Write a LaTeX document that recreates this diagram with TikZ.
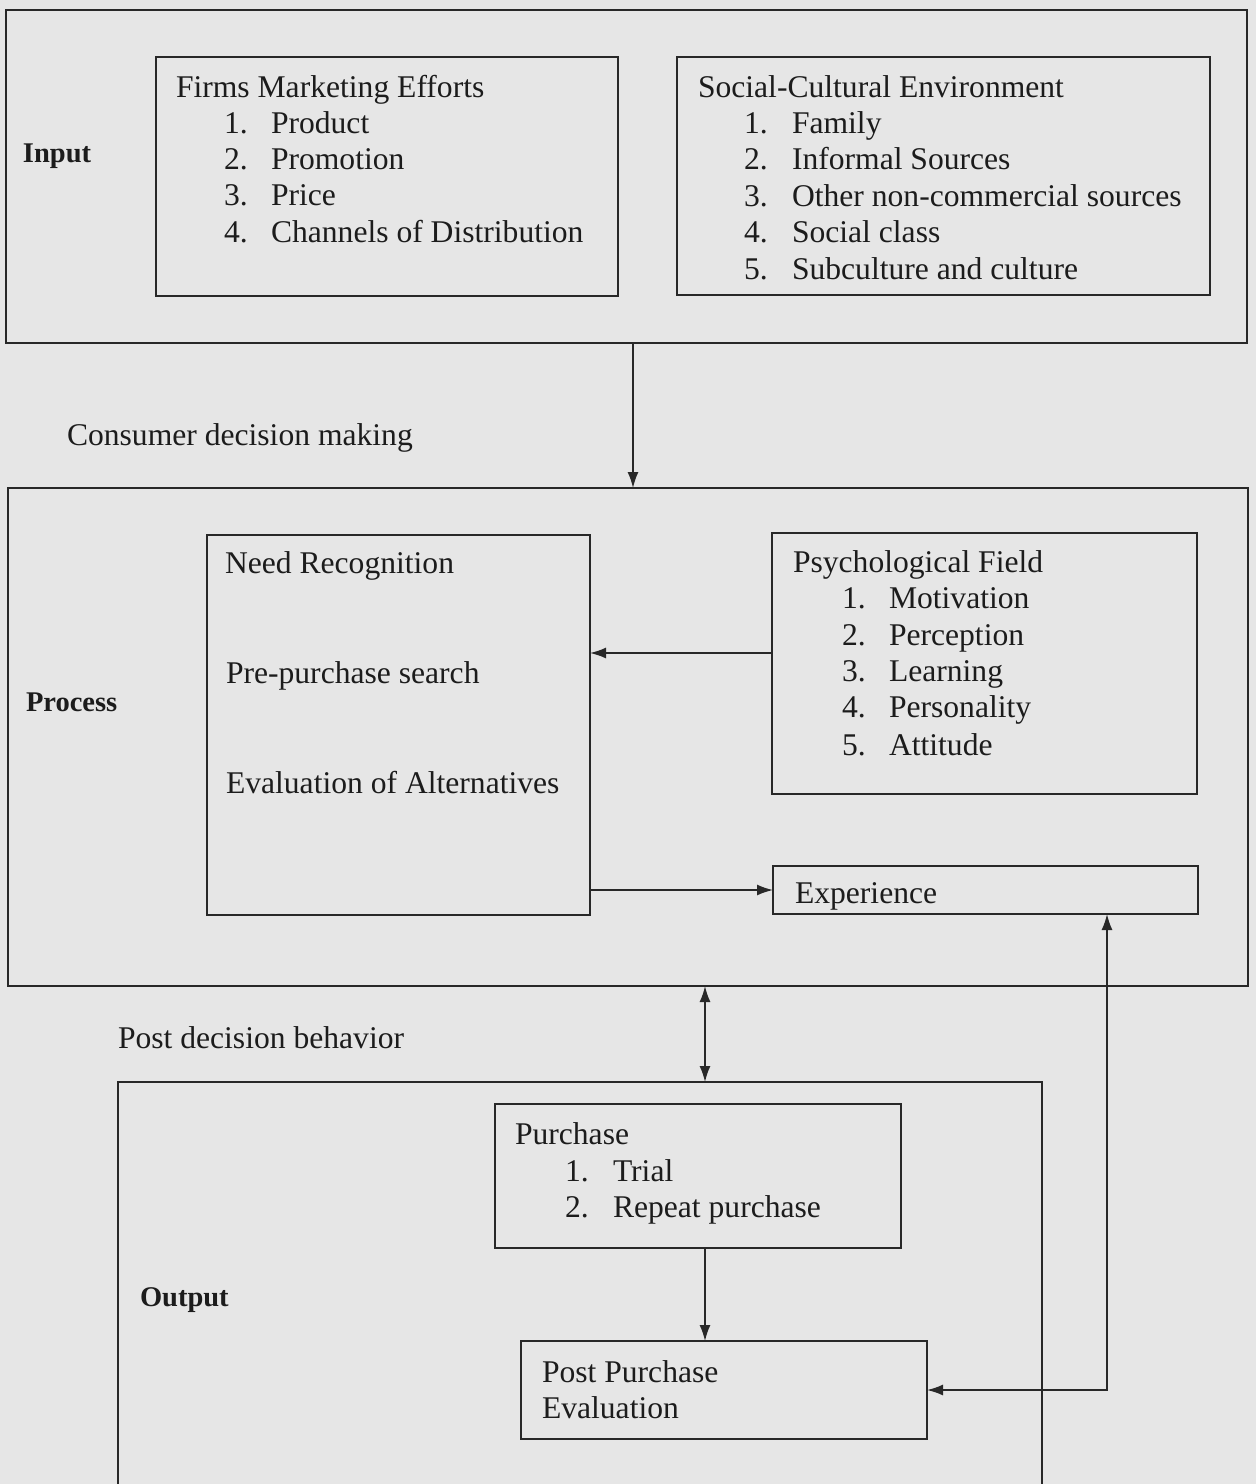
\documentclass[tikz,border=0pt]{standalone}
\usepackage{fontspec}
\setmainfont{Liberation Serif}
\usetikzlibrary{arrows.meta}
\definecolor{paper}{RGB}{230,230,230}
\definecolor{ink}{RGB}{28,28,28}
\definecolor{rule}{RGB}{40,40,40}
\tikzset{
  boxs/.style={draw=rule, line width=1.7pt, inner sep=0pt, outer sep=0pt},
  txt/.style={anchor=base west, inner sep=0pt, outer sep=0pt, text=ink, font=\fontsize{31.6}{36}\selectfont},
  lbl/.style={anchor=base west, inner sep=0pt, outer sep=0pt, text=ink, font=\fontsize{28.5}{34}\selectfont\bfseries},
  conn/.style={draw=rule, line width=1.6pt, -{Latex[length=16pt,width=11pt]}},
  conn2/.style={draw=rule, line width=1.6pt, {Latex[length=16pt,width=11pt]}-{Latex[length=16pt,width=11pt]}}
}
\begin{document}
\begin{tikzpicture}[x=1pt,y=-1pt]
\fill[paper] (0,0) rectangle (1256,1484);
\useasboundingbox (0,0) rectangle (1256,1484);

% ---- Input ----
\node[boxs, minimum width=1241pt, minimum height=333pt] (inbox) at (626.5,176.5) {};
\node[boxs, minimum width=462pt, minimum height=239pt] (firms) at (387,176.5) {};
\node[boxs, minimum width=533pt, minimum height=238pt] (social) at (943.5,176) {};
\node[lbl] (inlbl) at (23,162) {Input};

\node[txt] (f0) at (176,97) {Firms Marketing Efforts};
\node[txt] (f1n) at (224,133) {1.}; \node[txt] (f1) at (271,133) {Product};
\node[txt] (f2n) at (224,169) {2.}; \node[txt] (f2) at (271,169) {Promotion};
\node[txt] (f3n) at (224,205) {3.}; \node[txt] (f3) at (271,205) {Price};
\node[txt] (f4n) at (224,242) {4.}; \node[txt] (f4) at (271,242) {Channels of Distribution};

\node[txt] (s0) at (698,97) {Social-Cultural Environment};
\node[txt] (s1n) at (744,133) {1.}; \node[txt] (s1) at (792,133) {Family};
\node[txt] (s2n) at (744,169) {2.}; \node[txt] (s2) at (792,169) {Informal Sources};
\node[txt] (s3n) at (744,206) {3.}; \node[txt] (s3) at (792,206) {Other non-commercial sources};
\node[txt] (s4n) at (744,242) {4.}; \node[txt] (s4) at (792,242) {Social class};
\node[txt] (s5n) at (744,279) {5.}; \node[txt] (s5) at (792,279) {Subculture and culture};

\node[txt] (cdm) at (67,445) {Consumer decision making};

% ---- Process ----
\node[boxs, minimum width=1240pt, minimum height=498pt] (process) at (628,737) {};
\node[boxs, minimum width=383pt, minimum height=380pt] (need) at (398.5,725) {};
\node[boxs, minimum width=425pt, minimum height=261pt] (psych) at (984.5,663.5) {};
\node[boxs, minimum width=425pt, minimum height=48pt] (exper) at (985.5,890) {};
\node[lbl] (prlbl) at (26,711) {Process};

\node[txt] (n1) at (225,573) {Need Recognition};
\node[txt] (n2) at (226,683) {Pre-purchase search};
\node[txt] (n3) at (226,793) {Evaluation of Alternatives};

\node[txt] (p0) at (793,572) {Psychological Field};
\node[txt] (p1n) at (842,608) {1.}; \node[txt] (p1) at (889,608) {Motivation};
\node[txt] (p2n) at (842,645) {2.}; \node[txt] (p2) at (889,645) {Perception};
\node[txt] (p3n) at (842,681) {3.}; \node[txt] (p3) at (889,681) {Learning};
\node[txt] (p4n) at (842,717) {4.}; \node[txt] (p4) at (889,717) {Personality};
\node[txt] (p5n) at (842,755) {5.}; \node[txt] (p5) at (889,755) {Attitude};

\node[txt] (ex) at (795,903) {Experience};

\node[txt] (pdb) at (118,1048) {Post decision behavior};

% ---- Output ----
\node[boxs, minimum width=924pt, minimum height=418pt] (outbox) at (580,1291) {};
\node[boxs, minimum width=406pt, minimum height=144pt] (purch) at (698,1176) {};
\node[boxs, minimum width=406pt, minimum height=98pt] (post) at (724,1390) {};
\node[lbl] (outlbl) at (140,1306) {Output};

\node[txt] (u0) at (515,1144) {Purchase};
\node[txt] (u1n) at (565,1181) {1.}; \node[txt] (u1) at (613,1181) {Trial};
\node[txt] (u2n) at (565,1217) {2.}; \node[txt] (u2) at (613,1217) {Repeat purchase};

\node[txt] (e1) at (542,1382) {Post Purchase};
\node[txt] (e2) at (542,1418) {Evaluation};

% ---- connectors ----
\coordinate (xa) at (633,0);
\coordinate (xb) at (705,0);
\coordinate (xc) at (1107,0);
\coordinate (ya) at (0,653);

\draw[conn] (inbox.south -| xa) -- (process.north -| xa);
\draw[conn] (psych.west |- ya) -- (need.east |- ya);
\draw[conn] (need.east |- exper.west) -- (exper.west);
\draw[conn2] (process.south -| xb) -- (outbox.north -| xb);
\draw[conn] (purch.south -| xb) -- (post.north -| xb);
\draw[conn2] (exper.south -| xc) -- (xc |- post.east) -- (post.east);
\end{tikzpicture}
\end{document}
